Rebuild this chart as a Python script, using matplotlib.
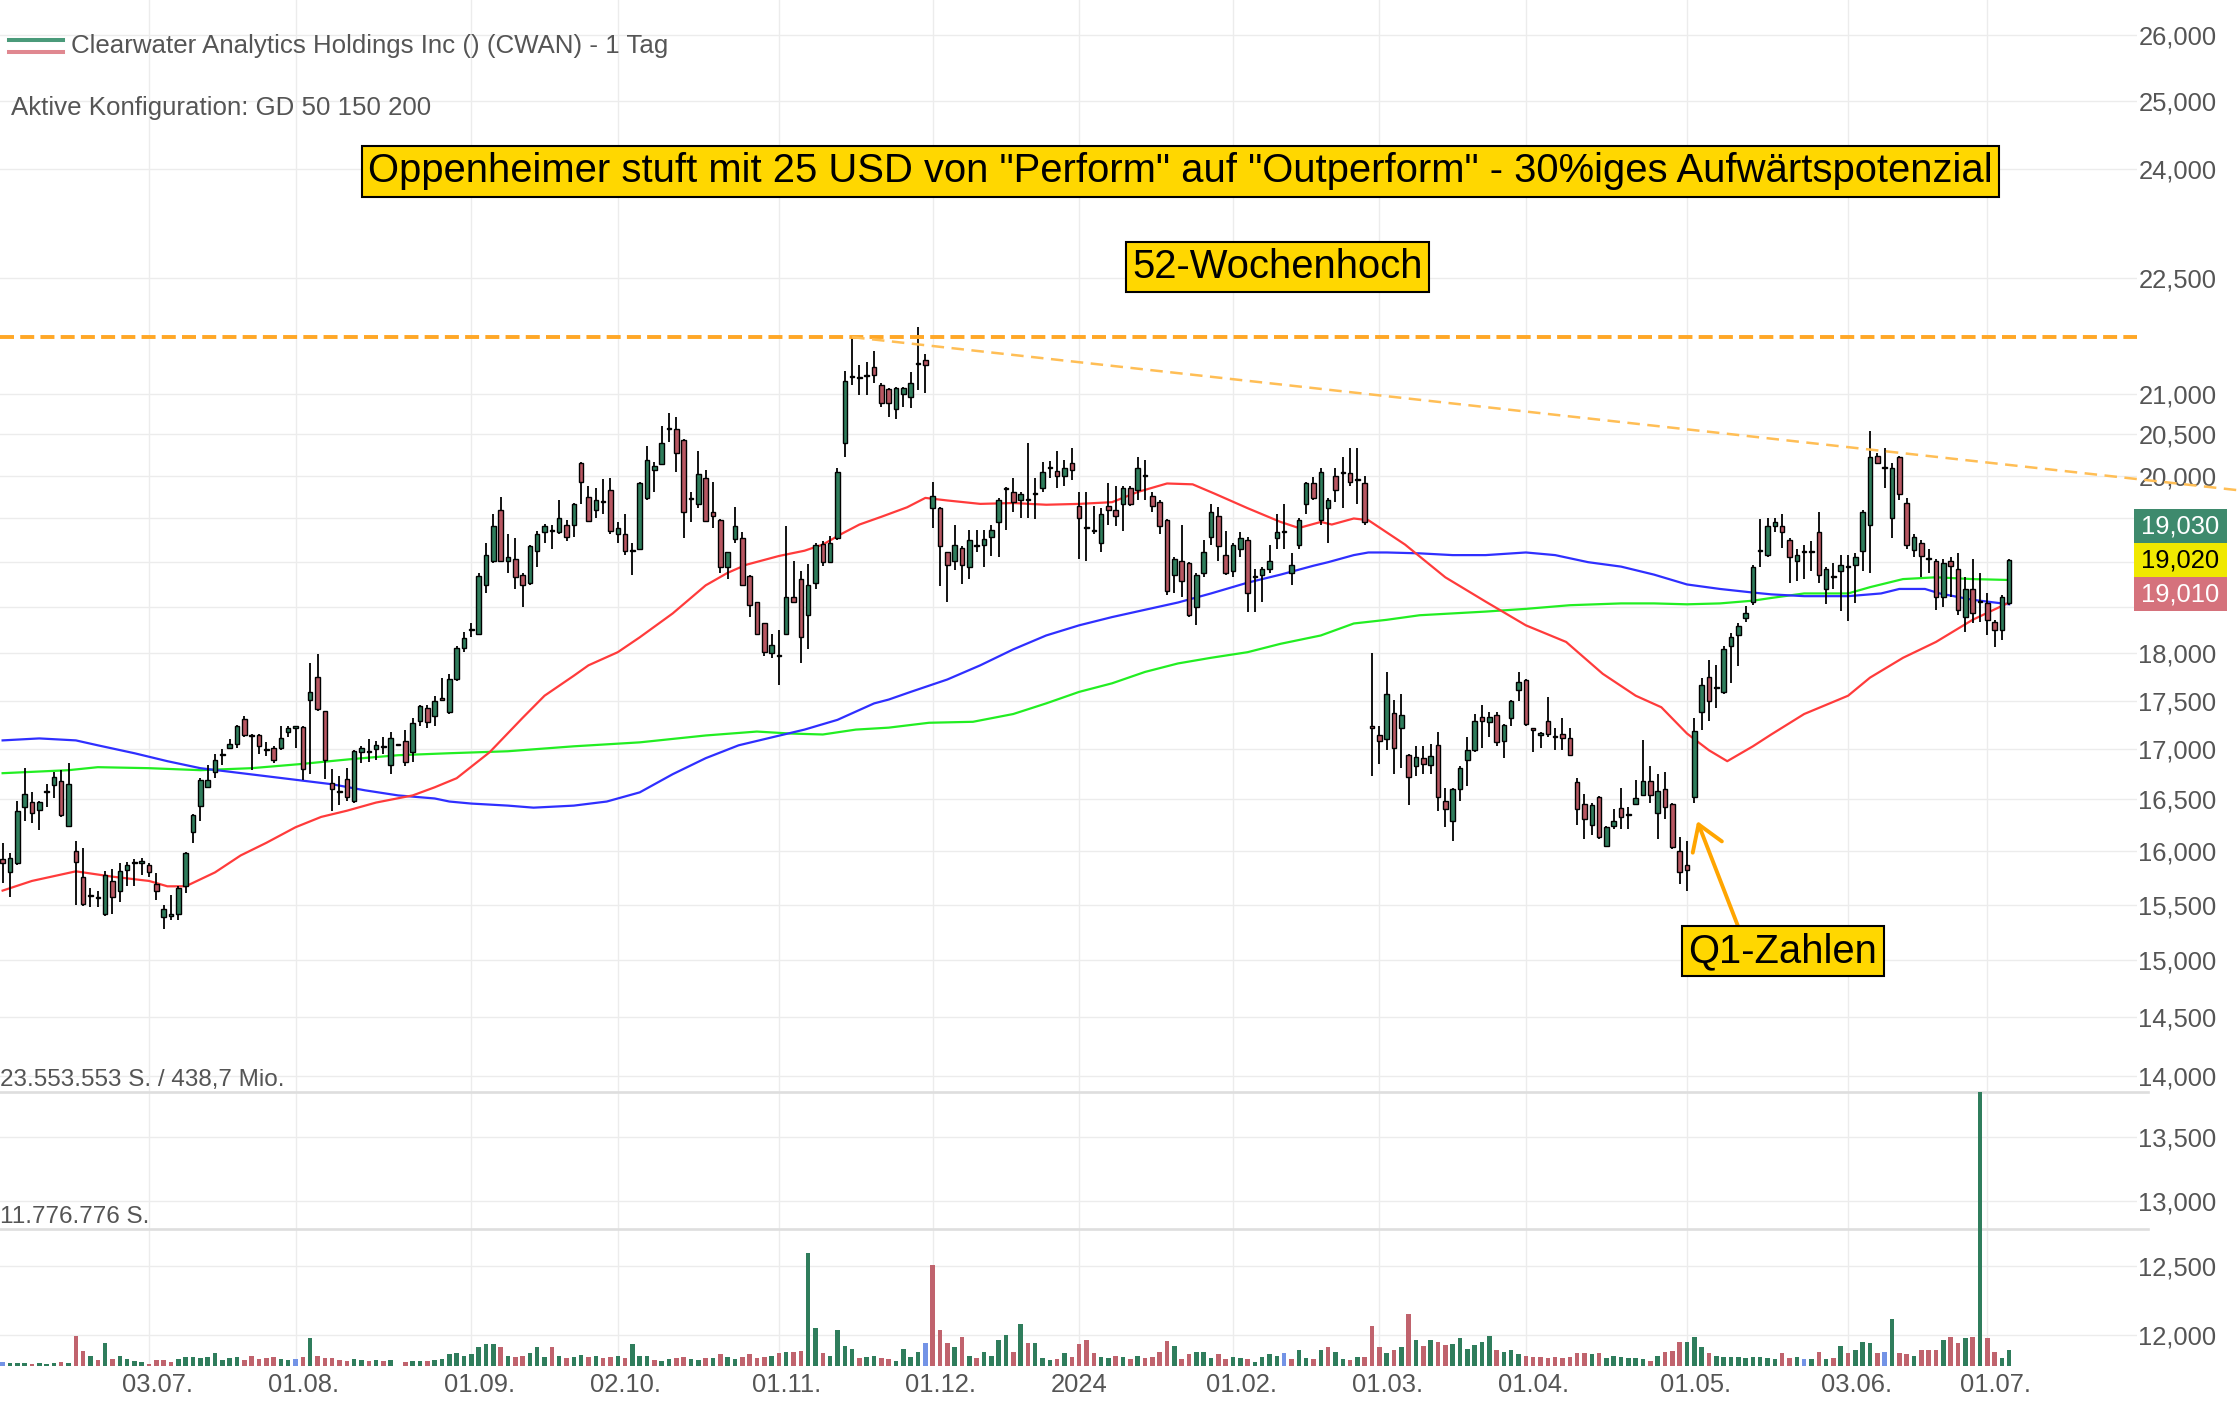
import numpy as np
import matplotlib
matplotlib.use("Agg")
import matplotlib.pyplot as plt
import matplotlib.ticker as mticker
from matplotlib.patches import Rectangle
from matplotlib.lines import Line2D

plt.rcParams['font.family'] = ['Liberation Sans', 'DejaVu Sans']

# ========== Daten ==========
first_day = 1   # erster sichtbarer Handelstag (Index)

opens = [
    15.93, 15.80, 15.89, 16.43, 16.48, 16.40, 16.57, 16.64, 16.68, 16.24,
    16.00, 15.76, 15.59, 15.56, 15.41, 15.72, 15.63, 15.82, 15.89, 15.89,
    15.87, 15.69, 15.39, 15.40, 15.41, 15.67, 16.18, 16.44, 16.62, 16.77,
    16.94, 17.01, 17.05, 17.31, 17.14, 17.14, 17.00, 17.01, 17.01, 17.18,
    17.22, 17.23, 17.51, 17.75, 17.39, 16.66, 16.58, 16.70, 16.49, 16.97,
    16.97, 17.00, 17.03, 16.84, 17.04, 17.08, 16.97, 17.29, 17.42, 17.34,
    17.52, 17.38, 17.72, 18.06, 18.25, 18.21, 18.74, 19.01, 19.60, 19.01,
    19.04, 18.86, 18.77, 19.13, 19.34, 19.36, 19.34, 19.43, 19.43, 20.15,
    19.75, 19.60, 19.69, 19.83, 19.32, 19.32, 19.13, 19.15, 19.74, 20.07,
    20.14, 20.56, 20.56, 20.43, 19.74, 19.67, 19.98, 19.58, 19.48, 18.95,
    19.26, 19.27, 18.84, 18.55, 18.32, 18.00, 17.97, 18.21, 18.61, 18.81,
    18.41, 18.77, 19.21, 19.00, 19.27, 20.40, 21.21, 21.21, 21.23, 21.34,
    21.11, 21.06, 20.81, 21.00, 20.96, 21.38, 21.43, 19.62, 19.62, 19.11,
    19.01, 19.16, 18.95, 19.18, 19.20, 19.29, 19.46, 19.85, 19.81, 19.72,
    19.72, 19.79, 19.86, 20.10, 20.06, 20.00, 20.15, 19.65, 19.39, 19.37,
    19.22, 19.65, 19.60, 19.67, 19.86, 19.83, 20.00, 19.76, 19.69, 19.48,
    18.86, 19.01, 18.99, 18.50, 18.88, 19.29, 19.53, 19.08, 18.90, 19.15,
    19.25, 18.83, 18.86, 18.92, 19.27, 19.34, 18.88, 19.20, 19.67, 19.91,
    19.48, 19.62, 20.00, 20.04, 20.04, 19.95, 19.91, 17.24, 17.14, 17.10,
    17.37, 17.22, 16.94, 16.83, 16.91, 16.84, 17.04, 16.49, 16.29, 16.60,
    16.89, 16.99, 17.33, 17.28, 17.35, 17.08, 17.32, 17.61, 17.71, 17.21,
    17.14, 17.29, 17.12, 17.15, 17.11, 16.67, 16.46, 16.25, 16.52, 16.05,
    16.24, 16.42, 16.35, 16.46, 16.54, 16.68, 16.37, 16.60, 16.46, 16.00,
    15.87, 16.52, 17.38, 17.75, 17.63, 17.59, 18.08, 18.20, 18.38, 18.56,
    19.14, 19.08, 19.41, 19.41, 19.25, 19.01, 19.11, 19.11, 19.34, 18.70,
    18.83, 18.90, 18.96, 18.97, 19.13, 19.43, 20.24, 20.10, 19.50, 20.22,
    19.68, 19.14, 19.22, 19.04, 19.01, 18.61, 19.01, 18.92, 18.39, 18.70,
    18.55, 18.54, 18.34, 18.25, 18.54,
]
highs = [
    16.08, 15.98, 16.49, 16.81, 16.57, 16.49, 16.65, 16.77, 16.79, 16.86,
    16.10, 16.03, 15.65, 15.63, 15.81, 15.83, 15.89, 15.90, 15.93, 15.94,
    15.89, 15.79, 15.50, 15.59, 15.67, 15.99, 16.36, 16.71, 16.84, 16.95,
    17.00, 17.10, 17.25, 17.34, 17.16, 17.16, 17.07, 17.03, 17.24, 17.24,
    17.23, 17.24, 17.89, 17.99, 17.39, 16.80, 16.73, 16.81, 16.99, 17.03,
    17.10, 17.08, 17.12, 17.18, 17.04, 17.20, 17.32, 17.45, 17.45, 17.55,
    17.74, 17.78, 18.08, 18.23, 18.32, 18.88, 19.22, 19.55, 19.75, 19.32,
    19.27, 18.88, 19.20, 19.36, 19.44, 19.43, 19.71, 19.48, 19.68, 20.17,
    19.88, 19.86, 19.96, 19.98, 19.46, 19.55, 19.22, 19.93, 20.36, 20.17,
    20.60, 20.76, 20.71, 20.44, 19.81, 20.30, 20.07, 19.93, 19.49, 19.12,
    19.63, 19.34, 18.86, 18.56, 18.33, 18.21, 18.25, 19.41, 19.01, 18.90,
    18.98, 19.22, 19.24, 19.30, 20.10, 21.29, 21.72, 21.36, 21.40, 21.54,
    21.14, 21.07, 21.09, 21.09, 21.28, 21.85, 21.50, 19.93, 19.63, 19.12,
    19.43, 19.18, 19.37, 19.37, 19.37, 19.43, 19.74, 19.87, 19.98, 19.81,
    20.39, 19.98, 20.17, 20.18, 20.30, 20.19, 20.34, 19.81, 19.81, 19.65,
    19.62, 19.91, 19.88, 19.88, 19.88, 20.22, 20.19, 19.81, 19.72, 19.49,
    19.06, 19.43, 19.00, 18.88, 19.25, 19.67, 19.63, 19.35, 19.22, 19.34,
    19.29, 18.92, 18.95, 19.19, 19.55, 19.67, 19.10, 19.50, 19.93, 19.99,
    20.10, 19.74, 20.10, 20.22, 20.34, 20.34, 20.00, 18.00, 17.24, 17.80,
    17.51, 17.57, 16.95, 17.03, 17.03, 17.05, 17.18, 16.61, 16.61, 16.83,
    17.12, 17.36, 17.45, 17.38, 17.38, 17.26, 17.51, 17.80, 17.72, 17.22,
    17.18, 17.54, 17.22, 17.32, 17.22, 16.71, 16.55, 16.47, 16.53, 16.24,
    16.41, 16.61, 16.43, 16.69, 17.09, 16.83, 16.75, 16.77, 16.47, 16.14,
    16.10, 17.32, 17.74, 17.93, 17.87, 18.08, 18.22, 18.32, 18.51, 18.97,
    19.49, 19.50, 19.50, 19.55, 19.27, 19.15, 19.19, 19.24, 19.57, 18.95,
    18.99, 19.08, 19.08, 19.10, 19.60, 20.54, 20.27, 20.34, 20.15, 20.24,
    19.74, 19.32, 19.25, 19.15, 19.04, 19.04, 19.06, 19.10, 18.83, 19.04,
    18.88, 18.66, 18.36, 18.63, 19.04,
]
lows = [
    15.70, 15.57, 15.87, 16.29, 16.27, 16.20, 16.43, 16.51, 16.33, 16.23,
    15.50, 15.49, 15.48, 15.48, 15.40, 15.41, 15.52, 15.67, 15.67, 15.78,
    15.76, 15.54, 15.28, 15.36, 15.36, 15.61, 16.08, 16.29, 16.61, 16.71,
    16.84, 17.00, 17.01, 17.12, 16.79, 16.95, 16.93, 16.86, 16.99, 17.12,
    17.01, 16.69, 16.75, 17.39, 16.70, 16.39, 16.45, 16.49, 16.47, 16.86,
    16.87, 16.89, 16.95, 16.75, 17.04, 16.83, 16.87, 17.24, 17.22, 17.24,
    17.49, 17.36, 17.70, 18.01, 18.17, 18.19, 18.65, 18.99, 19.00, 18.88,
    18.70, 18.50, 18.74, 18.95, 19.22, 19.15, 19.32, 19.24, 19.29, 19.67,
    19.46, 19.50, 19.55, 19.32, 19.22, 19.08, 18.86, 19.14, 19.71, 19.81,
    20.14, 20.41, 20.05, 19.27, 19.46, 19.62, 19.46, 19.39, 18.88, 18.81,
    19.22, 18.73, 18.39, 18.19, 17.97, 17.95, 17.66, 18.19, 18.54, 17.89,
    18.04, 18.70, 18.96, 18.99, 19.25, 20.22, 21.11, 20.99, 20.99, 21.14,
    20.84, 20.71, 20.69, 20.84, 20.83, 21.05, 21.01, 19.39, 18.73, 18.55,
    18.91, 18.75, 18.81, 19.11, 18.95, 19.07, 19.06, 19.37, 19.58, 19.50,
    19.50, 19.49, 19.81, 19.98, 19.86, 19.88, 19.95, 19.04, 19.01, 19.32,
    19.11, 19.43, 19.41, 19.36, 19.65, 19.72, 19.72, 19.58, 19.32, 18.63,
    18.65, 18.61, 18.39, 18.30, 18.83, 19.20, 19.01, 18.86, 18.83, 19.06,
    18.45, 18.45, 18.56, 18.88, 19.15, 19.15, 18.74, 19.15, 19.55, 19.72,
    19.43, 19.22, 19.69, 19.62, 19.88, 19.67, 19.43, 16.73, 16.85, 16.99,
    16.75, 16.81, 16.45, 16.73, 16.75, 16.75, 16.39, 16.23, 16.10, 16.49,
    16.63, 16.97, 17.01, 17.12, 17.03, 16.91, 17.24, 17.49, 17.24, 16.97,
    17.01, 17.12, 16.99, 16.99, 16.93, 16.25, 16.12, 16.16, 16.12, 16.04,
    16.21, 16.21, 16.21, 16.45, 16.53, 16.47, 16.12, 16.31, 16.02, 15.69,
    15.63, 16.47, 17.20, 17.29, 17.42, 17.57, 17.68, 17.86, 18.34, 18.52,
    18.95, 19.06, 19.34, 19.16, 18.77, 18.79, 18.81, 18.90, 18.77, 18.53,
    18.70, 18.46, 18.35, 18.54, 18.90, 18.88, 20.15, 19.86, 19.27, 19.71,
    19.15, 19.06, 18.83, 18.88, 18.47, 18.50, 18.61, 18.41, 18.23, 18.32,
    18.34, 18.19, 18.07, 18.14, 18.52,
]
closes = [
    15.89, 15.94, 16.39, 16.55, 16.37, 16.48, 16.58, 16.72, 16.35, 16.65,
    15.90, 15.51, 15.58, 15.57, 15.78, 15.57, 15.81, 15.87, 15.90, 15.91,
    15.80, 15.63, 15.46, 15.41, 15.65, 15.98, 16.35, 16.69, 16.69, 16.89,
    16.95, 17.05, 17.24, 17.14, 17.13, 17.03, 16.99, 16.89, 17.11, 17.22,
    17.22, 16.80, 17.59, 17.41, 16.89, 16.60, 16.57, 16.52, 16.98, 17.01,
    16.98, 17.04, 17.02, 17.11, 17.04, 16.87, 17.27, 17.44, 17.28, 17.50,
    17.51, 17.72, 18.06, 18.16, 18.26, 18.84, 19.08, 19.41, 19.01, 19.06,
    18.83, 18.74, 19.18, 19.32, 19.41, 19.35, 19.50, 19.29, 19.67, 19.93,
    19.47, 19.71, 19.70, 19.35, 19.39, 19.13, 19.14, 19.91, 20.19, 20.12,
    20.40, 20.57, 20.27, 19.58, 19.73, 20.02, 19.47, 19.53, 18.95, 19.11,
    19.41, 18.74, 18.52, 18.21, 18.01, 18.09, 17.98, 18.61, 18.55, 18.17,
    18.74, 19.20, 19.00, 19.22, 20.05, 21.16, 21.22, 21.20, 21.22, 21.24,
    20.89, 20.88, 21.07, 21.07, 21.14, 21.38, 21.36, 19.76, 19.18, 18.97,
    19.20, 18.97, 19.25, 19.19, 19.26, 19.37, 19.72, 19.86, 19.69, 19.79,
    19.73, 19.80, 20.05, 20.11, 20.00, 20.10, 20.07, 19.50, 19.40, 19.36,
    19.55, 19.60, 19.53, 19.86, 19.67, 20.10, 20.01, 19.65, 19.41, 18.68,
    19.04, 18.79, 18.41, 18.86, 19.11, 19.58, 19.18, 18.88, 19.20, 19.27,
    18.65, 18.84, 18.92, 19.01, 19.34, 19.34, 18.97, 19.48, 19.91, 19.74,
    20.05, 19.72, 19.83, 20.05, 19.93, 19.96, 19.46, 17.22, 17.08, 17.57,
    17.01, 17.35, 16.72, 16.92, 16.85, 16.93, 16.52, 16.41, 16.60, 16.81,
    16.99, 17.29, 17.29, 17.33, 17.07, 17.25, 17.49, 17.69, 17.26, 17.20,
    17.17, 17.15, 17.13, 17.11, 16.94, 16.41, 16.31, 16.45, 16.14, 16.23,
    16.29, 16.33, 16.36, 16.51, 16.68, 16.54, 16.58, 16.43, 16.04, 15.80,
    15.82, 17.19, 17.66, 17.50, 17.64, 18.04, 18.17, 18.29, 18.44, 18.95,
    19.13, 19.41, 19.46, 19.34, 19.06, 19.08, 19.11, 19.12, 18.86, 18.92,
    18.84, 18.97, 18.95, 19.06, 19.57, 20.22, 20.15, 20.10, 20.10, 19.79,
    19.20, 19.29, 19.07, 19.05, 18.61, 18.99, 18.96, 18.47, 18.70, 18.44,
    18.56, 18.36, 18.25, 18.61, 19.02,
]
# Volumen in Mio. Stück
volumes = [
    0.35, 0.30, 0.30, 0.25, 0.20, 0.25, 0.20, 0.30, 0.35, 0.30,
    2.60, 1.30, 0.90, 0.50, 1.95, 0.64, 0.87, 0.58, 0.40, 0.35,
    0.20, 0.55, 0.50, 0.35, 0.60, 0.80, 0.80, 0.70, 0.80, 1.10,
    0.50, 0.65, 0.80, 0.50, 0.90, 0.60, 0.70, 0.80, 0.60, 0.50,
    0.60, 0.80, 2.40, 0.90, 0.70, 0.70, 0.50, 0.45, 0.60, 0.50,
    0.45, 0.50, 0.40, 0.50, 0.00, 0.35, 0.40, 0.45, 0.40, 0.50,
    0.60, 1.00, 1.10, 0.90, 1.00, 1.60, 1.85, 1.90, 1.60, 0.90,
    0.80, 0.85, 1.10, 1.65, 0.80, 1.60, 0.90, 0.70, 0.80, 0.95,
    0.80, 0.90, 0.70, 0.75, 0.90, 0.70, 1.85, 0.85, 0.90, 0.50,
    0.45, 0.60, 0.70, 0.80, 0.60, 0.50, 0.70, 0.65, 1.00, 0.80,
    0.60, 0.80, 1.00, 0.70, 0.75, 0.90, 1.10, 1.20, 1.20, 1.25,
    9.70, 3.30, 1.10, 0.90, 3.10, 1.75, 1.50, 0.70, 0.80, 0.85,
    0.70, 0.60, 0.40, 1.50, 0.80, 1.20, 2.00, 8.70, 3.10, 2.00,
    1.60, 2.50, 0.90, 0.70, 1.20, 0.90, 2.20, 2.70, 1.20, 3.60,
    1.95, 1.95, 0.65, 0.50, 0.60, 1.10, 0.80, 1.86, 2.20, 1.10,
    0.80, 0.70, 0.87, 0.75, 0.64, 0.87, 0.70, 0.80, 1.20, 2.15,
    1.75, 0.58, 1.00, 1.20, 1.20, 0.70, 1.00, 0.64, 0.80, 0.70,
    0.64, 0.35, 0.80, 1.00, 0.90, 1.10, 0.64, 1.40, 0.70, 0.64,
    1.40, 1.60, 1.20, 0.60, 0.50, 0.80, 0.80, 3.40, 1.65, 1.10,
    1.40, 1.65, 4.50, 2.20, 1.75, 2.20, 2.10, 1.80, 1.85, 2.40,
    1.45, 1.80, 2.10, 2.60, 1.35, 1.20, 1.35, 1.00, 0.90, 0.80,
    0.75, 0.70, 0.80, 0.65, 0.75, 1.10, 1.10, 1.00, 1.10, 0.70,
    0.90, 0.75, 0.65, 0.70, 0.60, 0.45, 0.90, 1.20, 1.30, 2.10,
    2.10, 2.50, 1.60, 1.10, 0.90, 0.80, 0.75, 0.80, 0.65, 0.80,
    0.75, 0.70, 0.60, 1.10, 0.70, 0.75, 0.60, 0.64, 1.20, 0.64,
    0.70, 1.75, 1.10, 1.40, 2.10, 1.95, 1.10, 1.20, 4.00, 1.10,
    1.00, 0.90, 1.40, 1.40, 1.40, 2.20, 2.50, 1.95, 2.40, 2.50,
    23.55, 2.40, 1.20, 0.70, 1.40,
]
blue_days = [1, 41, 127, 176, 247, 258]   # unveränderte Tage (blau)

# gleitende Durchschnitte: (Tag, Wert)
gd50_x = [1, 5, 11, 16, 21, 23.5, 26, 30, 33.5, 37, 41, 44.5, 48, 52, 57, 60, 63,
          67.5, 72, 75, 79, 81, 85, 88, 92.5, 97, 100, 102.5, 107, 110.5, 113,
          115.5, 118, 121, 124.5, 127, 130, 134.5, 139, 143.5, 148, 152.5, 156,
          160, 163.5, 166.5, 171, 175.5, 178, 181, 182.5, 185.5, 187.5, 192.5,
          198, 203.5, 209, 214.5, 219.5, 224, 227.5, 231, 234, 236.5, 240,
          242.5, 247, 253, 256, 260.5, 265, 270, 275]
gd50_y = [15.63, 15.72, 15.81, 15.76, 15.72, 15.67, 15.67, 15.80, 15.96, 16.08,
          16.23, 16.33, 16.39, 16.47, 16.54, 16.62, 16.71, 16.97, 17.32, 17.55,
          17.76, 17.87, 18.01, 18.17, 18.43, 18.74, 18.88, 18.97, 19.07, 19.13,
          19.20, 19.32, 19.43, 19.52, 19.63, 19.74, 19.71, 19.67, 19.68, 19.66,
          19.67, 19.69, 19.81, 19.91, 19.90, 19.79, 19.62, 19.46, 19.39, 19.46,
          19.43, 19.50, 19.48, 19.20, 18.83, 18.56, 18.30, 18.12, 17.78, 17.55,
          17.43, 17.16, 16.99, 16.88, 17.03, 17.15, 17.36, 17.55, 17.74, 17.95,
          18.12, 18.36, 18.55]
gd150_x = [1, 6, 11, 14, 19, 23.5, 28, 32.5, 37, 41.5, 46, 50.5, 55, 60, 62, 65,
           70, 73.5, 79, 83.5, 88, 92.5, 97, 101.5, 106, 110.5, 115, 120, 122,
           125, 130, 134.5, 139, 143.5, 148, 152.5, 157, 161.5, 166, 171, 175.5,
           180, 182, 185.5, 187.5, 190, 194.5, 199, 203.5, 209, 213, 217.5, 222,
           226.5, 231, 235.5, 240, 242.5, 247, 253, 257.5, 260, 263.5, 265.5,
           270, 275]
gd150_y = [17.09, 17.11, 17.09, 17.04, 16.96, 16.88, 16.81, 16.77, 16.73, 16.69,
           16.65, 16.59, 16.54, 16.51, 16.48, 16.46, 16.44, 16.42, 16.44, 16.48,
           16.57, 16.75, 16.91, 17.04, 17.12, 17.20, 17.30, 17.47, 17.51, 17.59,
           17.72, 17.87, 18.04, 18.19, 18.30, 18.39, 18.47, 18.55, 18.65, 18.77,
           18.86, 18.96, 19.00, 19.08, 19.11, 19.11, 19.10, 19.08, 19.08, 19.11,
           19.08, 19.00, 18.95, 18.86, 18.75, 18.70, 18.66, 18.64, 18.62, 18.62,
           18.65, 18.70, 18.70, 18.65, 18.58, 18.53]
gd200_x = [1, 10, 14, 21, 28, 35, 41.5, 48.5, 55, 62, 70, 79, 88, 97, 104, 108.5,
           113, 117.5, 122, 127.5, 133.5, 139, 143.5, 148, 152.5, 157, 161.5,
           166, 171, 175.5, 181, 185.5, 190, 194.5, 199, 203.5, 209, 215, 222,
           226.5, 231, 235.5, 240, 242.5, 247, 253, 256, 260.5, 265, 270, 275]
gd200_y = [16.76, 16.79, 16.82, 16.81, 16.79, 16.81, 16.85, 16.90, 16.94, 16.96,
           16.98, 17.03, 17.07, 17.14, 17.18, 17.16, 17.15, 17.20, 17.22, 17.27,
           17.28, 17.36, 17.47, 17.59, 17.68, 17.80, 17.89, 17.95, 18.01, 18.10,
           18.19, 18.32, 18.36, 18.41, 18.43, 18.45, 18.48, 18.52, 18.54, 18.54,
           18.53, 18.54, 18.57, 18.60, 18.65, 18.65, 18.72, 18.81, 18.83, 18.81,
           18.80]

high_52w = 21.72                       # 52-Wochenhoch
trend_x = [117, 306.3]                 # Abwärtstrendlinie
trend_y = [21.72, 19.83]
q1_arrow_from = (238.1, 15.28)
q1_arrow_to = (232.4, 16.29)

date_ticks = [21, 41, 65, 85, 107, 128, 148, 169, 189, 209, 231, 253, 272]
date_labels = ['03.07.', '01.08.', '01.09.', '02.10.', '01.11.', '01.12.', '2024',
               '01.02.', '01.03.', '01.04.', '01.05.', '03.06.', '01.07.']
price_ticks = [26, 25, 24, 22.5, 21, 20.5, 20, 19.5, 19, 18.5, 18, 17.5, 17,
               16.5, 16, 15.5, 15, 14.5, 14, 13.5, 13, 12.5, 12]
hidden_ticks = [19.5, 19, 18.5]        # von den Kursboxen verdeckt
vol_max_shares = 23553553
vol_max_turnover = '438,7 Mio.'
quote_boxes = [(19.030, '#3e8a6d', 'white'), (19.020, '#f0e800', 'black'),
               (19.010, '#d5727c', 'white')]

# ========== Farben ==========
C_UP, C_DOWN = '#2f7d5c', '#b85762'
V_UP, V_DOWN, V_FLAT = '#2f7d5c', '#c0636d', '#7393e6'
GRID = '#ececec'
TXT = '#555555'
FS = 18.4

# ========== Figur ==========
fig = plt.figure(figsize=(22.38, 14.04), dpi=100)
ax = fig.add_axes([0, 0.02707, 0.9549, 0.97293])
ax.set_yscale('log')
ax.set_ylim(11.782, 26.54)
ax.set_xlim(0.643, 292.46)
for s in ax.spines.values():
    s.set_visible(False)

# Achsen / Gitter
ax.yaxis.tick_right()
ax.set_yticks(price_ticks)
ax.set_yticklabels(['' if t in hidden_ticks else f"{t:.3f}".replace('.', ',')
                    for t in price_ticks])
ax.yaxis.set_minor_locator(mticker.NullLocator())
ax.tick_params(axis='y', length=0, pad=1, labelsize=FS, labelcolor=TXT)
ax.grid(axis='y', color=GRID, lw=1.0, zorder=0)
for t in date_ticks:
    ax.axvline(t, color=GRID, lw=1.0, zorder=0)
label_pos = [t if lab == '2024' else t + 1.1 for t, lab in zip(date_ticks, date_labels)]
ax.set_xticks(label_pos)
ax.set_xticklabels(date_labels)
ax.tick_params(axis='x', length=0, pad=5, labelsize=FS, labelcolor=TXT)

# Kerzen
x = np.arange(first_day, first_day + len(closes))
o = np.array(opens)
c = np.array(closes)
up = c >= o
ax.vlines(x, lows, highs, color='black', lw=1.3, zorder=3)
body_low = np.minimum(o, c)
body_h = np.maximum(np.abs(c - o), 0.012)
ax.bar(x, body_h, bottom=body_low, width=0.62,
       color=[C_UP if u else C_DOWN for u in up],
       edgecolor='black', linewidth=1.0, zorder=4)

# GD 50 / 150 / 200
ax.plot(gd200_x, gd200_y, color='#22ee22', lw=1.6, zorder=2)
ax.plot(gd150_x, gd150_y, color='#2f2fff', lw=1.6, zorder=2)
ax.plot(gd50_x, gd50_y, color='#ff3b3b', lw=1.6, zorder=2)

# 52-Wochenhoch und Trendlinie
ax.axhline(high_52w, color='#ffa726', lw=2.8, dashes=(3.6, 1.6), zorder=5)
ax.plot(trend_x, trend_y, color='#ffbe55', lw=1.8, dashes=(5.0, 3.0),
        clip_on=False, zorder=5)

# Pfeil Q1-Zahlen
ax.annotate('', xy=q1_arrow_to, xytext=q1_arrow_from,
            arrowprops=dict(arrowstyle='->,head_length=0.7,head_width=0.45',
                            color='#ffa500', lw=2.8, mutation_scale=25,
                            shrinkA=0, shrinkB=0), zorder=6)

# ========== Volumen ==========
vax = fig.add_axes([0, 0.02707, 0.9549, 0.2222 - 0.02707])
vax.set_facecolor('none')
vax.axis('off')
vax.set_xlim(ax.get_xlim())
vol_max = vol_max_shares / 1e6
vax.set_ylim(0, vol_max)
prev = np.r_[c[0], c[:-1]]
vcol = [V_UP if cc >= pc else V_DOWN for cc, pc in zip(c, prev)]
for b in blue_days:
    vcol[b - first_day] = V_FLAT
vax.bar(x, volumes, width=0.62, color=vcol, zorder=3)
for lvl in (vol_max, vol_max / 2):
    vax.axhline(lvl, xmin=0, xmax=1.005, color='#dedede', lw=1.9, clip_on=False, zorder=1)
lab_full = f"{vol_max_shares:,}".replace(',', '.') + f" S. / {vol_max_turnover}"
lab_half = f"{vol_max_shares // 2:,}".replace(',', '.') + " S."
for lvl, lab in ((vol_max, lab_full), (vol_max / 2, lab_half)):
    vax.annotate(lab, xy=(0, lvl), xycoords=('axes fraction', 'data'),
                 xytext=(0, 8.5), textcoords='offset points', ha='left', va='center',
                 fontsize=17.5, color=TXT)

# ========== Kopfzeile ==========
fig.add_artist(Line2D([0.004, 0.0281], [0.9715, 0.9715], color='#4a9a7a', lw=2.9))
fig.add_artist(Line2D([0.004, 0.0281], [0.9632, 0.9632], color='#e08890', lw=2.9))
fig.text(0.0319, 0.9672, 'Clearwater Analytics Holdings Inc () (CWAN) - 1 Tag',
         ha='left', va='center', fontsize=18.6, color=TXT)
fig.text(0.0049, 0.9231, 'Aktive Konfiguration: GD 50 150 200',
         ha='left', va='center', fontsize=18.6, color=TXT)

# ========== Textboxen ==========
box = dict(boxstyle='square,pad=0.16', facecolor='#ffd700', edgecolor='black', lw=1.5)
fig.text(0.5274, 0.878,
         'Oppenheimer stuft mit 25 USD von "Perform" auf "Outperform" - 30%iges Aufwärtspotenzial',
         ha='center', va='center', fontsize=28.8, color='black', bbox=box)
fig.text(0.5708, 0.8098, '52-Wochenhoch', ha='center', va='center',
         fontsize=28.8, color='black', bbox=box)
fig.text(0.7966, 0.3226, 'Q1-Zahlen', ha='center', va='center',
         fontsize=28.8, color='black', bbox=box)

# ========== Kursboxen rechts ==========
fig_h = fig.get_figheight() * fig.dpi
mid = ax.transData.transform((1, quote_boxes[1][0]))[1] / fig_h
bh = 34 / fig_h
for k, (val, fc, tc) in enumerate(quote_boxes):
    yc = mid + (1 - k) * bh
    fig.add_artist(Rectangle((0.9535, yc - bh / 2), 0.0416, bh,
                             transform=fig.transFigure, facecolor=fc, edgecolor='none'))
    fig.text(0.9743, yc, f"{val:.3f}".replace('.', ','), ha='center', va='center',
             fontsize=FS, color=tc)

fig.savefig('out.png', dpi=100)
